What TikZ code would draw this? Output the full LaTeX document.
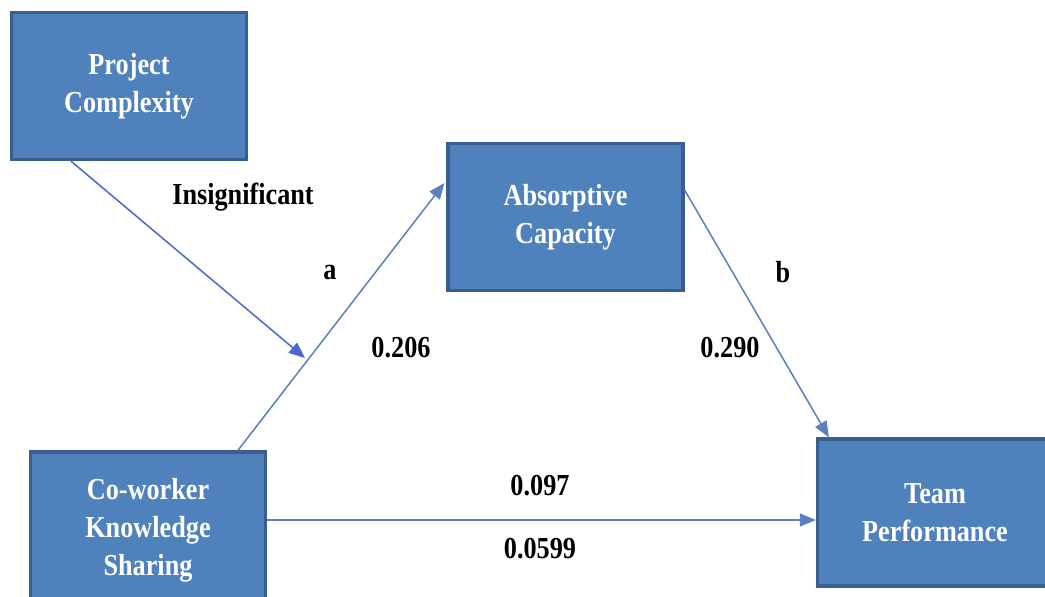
\documentclass[tikz,border=0pt]{standalone}
\usepackage{fontspec}
\setmainfont{Liberation Serif}[FakeStretch=0.86]
\usetikzlibrary{arrows.meta,calc}
\definecolor{boxfill}{HTML}{4F81BD}
\definecolor{boxline}{HTML}{3A5F8E}
\definecolor{linkblue}{HTML}{5A80C2}
\definecolor{modblue}{HTML}{4A66D6}
\tikzset{
  construct/.style={draw=boxline, line width=3.2pt, fill=boxfill, text=white,
    font=\fontsize{30.5}{38}\selectfont\bfseries, align=center,
    inner sep=0pt, minimum width=235pt, minimum height=147pt},
  link/.style={draw=linkblue, line width=1.5pt,
    -{Triangle[length=16pt,width=13pt]}},
  modlink/.style={link, draw=modblue},
  coef/.style={font=\fontsize{30.5}{34}\selectfont\bfseries, text=black, inner sep=0pt}
}
\begin{document}
\begin{tikzpicture}[x=1pt,y=-1pt]
  \useasboundingbox (0,0) rectangle (1045,597);
  \fill[white] (0,0) rectangle (1045,597);
  \begin{scope}
    \clip (0,0) rectangle (1045,597);
    % constructs
    \node[construct] (pc)  at (129,86)    {Project\\Complexity};
    \node[construct] (ac)  at (565.5,217) {Absorptive\\Capacity};
    \node[construct, minimum height=156pt] (cks) at (148,530) {Co-worker\\Knowledge\\Sharing};
    \node[construct] (tp)  at (935,512.5) {Team\\Performance};
  \end{scope}
  % path a
  \coordinate (a0) at ($(cks.north west)+(209,0)$);
  \coordinate (a1) at ($(ac.west)+(-2,-34)$);
  \draw[link] (a0) -- (a1);
  % moderation onto path a
  \coordinate (pcstart) at ($(pc.south west)+(61,0)$);
  \coordinate (modtip) at (305,358);
  \draw[modlink] (pcstart) -- (modtip);
  % path b
  \coordinate (b0) at ($(ac.east)+(0,-27)$);
  \draw[link] (b0) -- ($(tp.north west)+(13,0)$);
  % direct path
  \coordinate (c0) at ($(cks.east)+(0,-10)$);
  \draw[link] (c0) -- (c0 -| tp.west);
  % coefficients
  \node[coef] (lins) at (243,197) {Insignificant};
  \node[coef] (la)   at (330,272) {a};
  \node[coef] (lar)  at (401,348) {0.206};
  \node[coef] (lb)   at (783,272) {b};
  \node[coef] (lbr)  at (730,348) {0.290};
  \node[coef] (lc1)  at (540,486) {0.097};
  \node[coef] (lc2)  at (540,549) {0.0599};
\end{tikzpicture}
\end{document}
